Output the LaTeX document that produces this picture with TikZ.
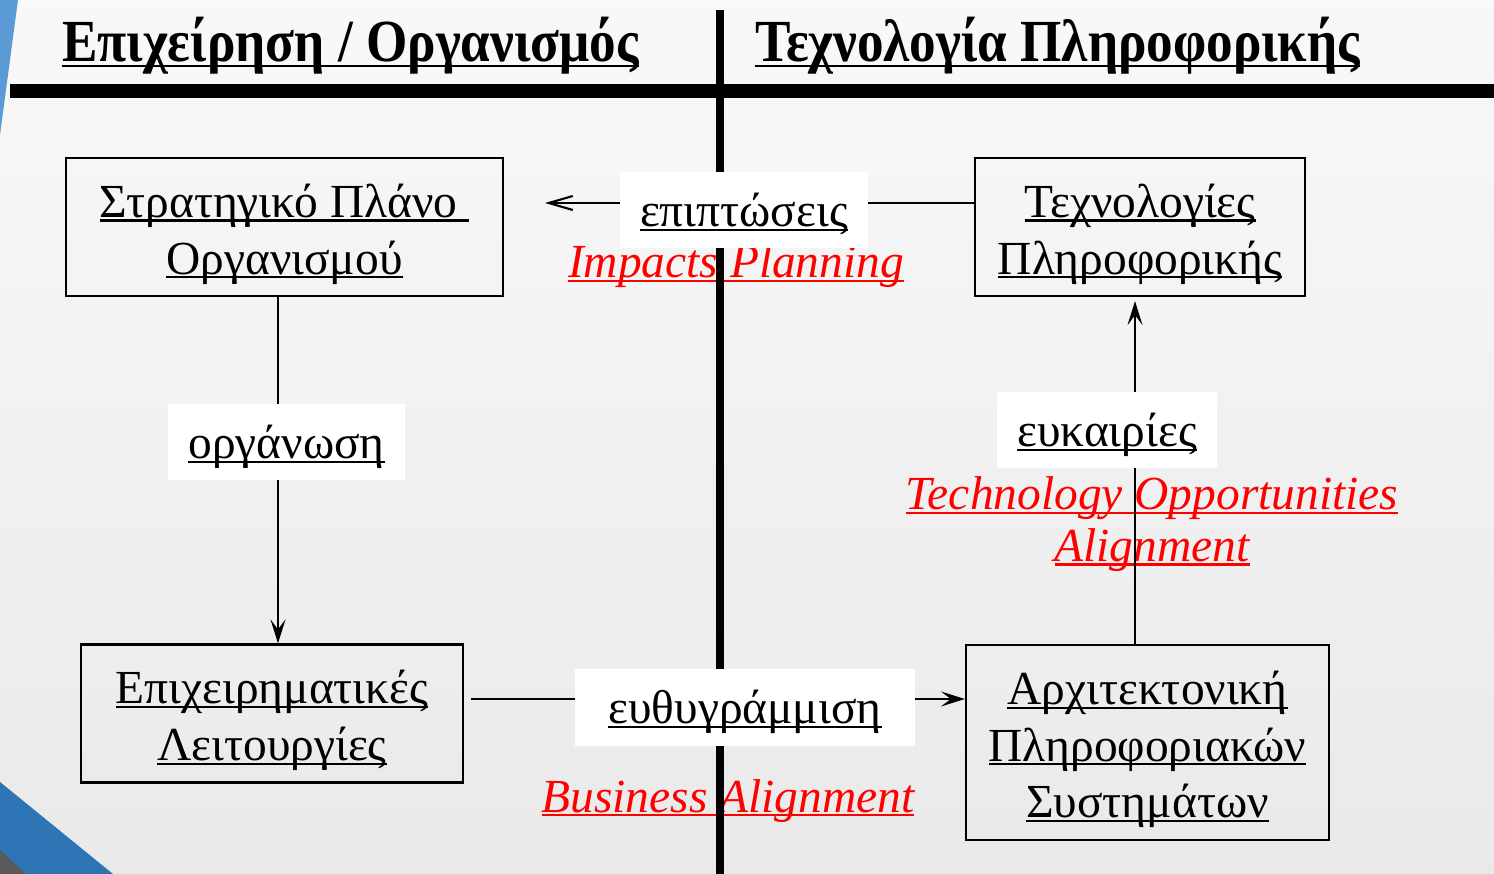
\documentclass[tikz,border=0pt]{standalone}
\usepackage{fontspec}
\setmainfont{Liberation Serif}
\newfontfamily\headfont[FakeStretch=0.89]{Liberation Serif}
\usepackage{tikz}
\usetikzlibrary{arrows.meta}
\newcommand{\ul}[1]{\leavevmode\setbox0\hbox{#1}\rlap{\rule[-0.09em]{\wd0}{0.045em}}\box0}
\newcommand{\lift}{\rule{0pt}{27pt}}
\definecolor{slideblue}{HTML}{5B9BD5}
\definecolor{cornerblue}{HTML}{2E75B6}
\tikzset{
  head/.style={inner sep=0pt, font=\headfont\bfseries\fontsize{34}{40}\selectfont},
  box/.style={draw, line width=1.3pt, minimum height=2.76cm, align=center, font=\fontsize{27}{32.3}\selectfont},
  tag/.style={fill=white, inner sep=0pt, minimum height=1.52cm, text height=21pt, text depth=2.3pt, font=\fontsize{27}{32}\selectfont},
  note/.style={text=red, inner sep=0pt, align=center, font=\fontsize{27}{29.5}\selectfont\itshape},
  link/.style={line width=1.2pt},
  tip/.style={-{Stealth[length=0.48cm, width=0.3cm, inset=0.2cm]}}
}

\begin{document}
\begin{tikzpicture}[x=0.02cm, y=-0.02cm]
\useasboundingbox (0,0) rectangle (1494,874);
\shade[top color=gray!5, bottom color=gray!17] (0,0) rectangle (1494,874);
\fill[slideblue] (0,0) -- (18,0) -- (0,135) -- cycle;
\fill[cornerblue] (0,782) -- (113,874) -- (0,874) -- cycle;
\fill[gray!70!black] (0,850) -- (26,874) -- (0,874) -- cycle;

\node[head, anchor=base west] (orgtitle) at (62,62) {\ul{Επιχείρηση / Οργανισμός}};
\node[head, anchor=base west] (ittitle) at (755,62) {\ul{Τεχνολογία Πληροφορικής}};

\node[note, anchor=base] (impacts) at (736,278) {\ul{Impacts Planning}};
\node[note] (techopp) at (1152,524) {\ul{Technology Opportunities}\\\ul{Alignment}};
\node[note, anchor=base] (busalign) at (728,812) {\ul{Business Alignment}};

\node[box, minimum width=8.74cm] (plan) at (284.5,227) {\lift\ul{Στρατηγικό Πλάνο\ }\\\ul{Οργανισμού}};
\node[box, minimum width=6.6cm] (tech) at (1140,227) {\lift\ul{Τεχνολογίες}\\\ul{Πληροφορικής}};
\node[box, minimum width=7.64cm] (ops) at (272,713.5) {\lift\ul{Επιχειρηματικές}\\\ul{Λειτουργίες}};
\node[box, minimum width=7.26cm, minimum height=3.9cm] (arch) at (1147.5,742.5) {\lift\ul{Αρχιτεκτονική}\\\ul{Πληροφοριακών}\\\ul{Συστημάτων}};

\draw[line width=4pt] (720,10) -- (720,874);
\draw[line width=8.5pt] (10,91) -- (1494,91);

\coordinate (impend) at (545,203);
\coordinate (orgx) at (278,0);
\coordinate (oppx) at (1135,0);
\coordinate (aligny) at (0,699);
\draw[link, -{Straight Barb[length=0.48cm, width=0.28cm]}] (tech.west |- impend) -- (impend);
\draw[link, tip] (orgx |- plan.south) -- (orgx |- ops.north);
\draw[link, tip, shorten >=0.08cm] (oppx |- arch.north) -- (oppx |- tech.south);
\draw[link, tip, shorten <=0.14cm] (ops.east |- aligny) -- (arch.west |- aligny);

\node[tag, minimum width=4.96cm] (impact) at (744,210) {\ul{επιπτώσεις}};
\node[tag, minimum width=4.74cm] (organise) at (286.5,442) {\ul{οργάνωση}};
\node[tag, minimum width=4.4cm] (chances) at (1107,430) {\ul{ευκαιρίες}};
\node[tag, minimum width=6.8cm, minimum height=1.54cm] (alignment) at (745,707.5) {\ul{ευθυγράμμιση}};
\end{tikzpicture}
\end{document}
